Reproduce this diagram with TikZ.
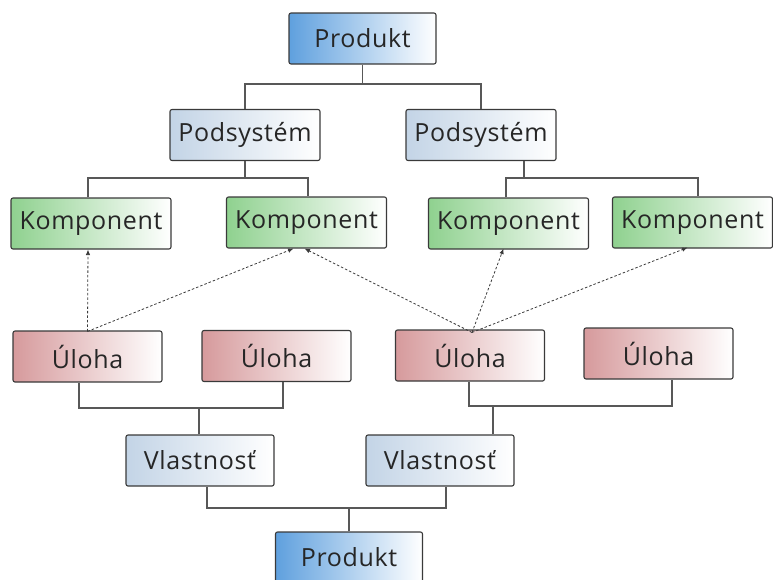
\documentclass[tikz,border=0pt]{standalone}
\usepackage{fontspec}
\setmainfont{Open Sans}[LetterSpace=2.5]
\usetikzlibrary{arrows.meta,calc}
\definecolor{bstrong}{HTML}{5FA0DE}
\definecolor{bsoft}{HTML}{C3D4E6}
\definecolor{gsoft}{HTML}{8FD18F}
\definecolor{rsoft}{HTML}{D69A9C}
\definecolor{edge}{HTML}{3A3A3A}
\tikzset{
  box/.style={draw=edge, line width=1.1pt, rounded corners=2pt, right color=white,
    minimum height=51pt, inner sep=0pt, font=\fontsize{25}{29}\selectfont, text=black!85},
  prod/.style={box, left color=bstrong, minimum width=147pt},
  sub/.style={box, left color=bsoft, minimum width=150pt},
  komp/.style={box, left color=gsoft, minimum width=160pt},
  ul/.style={box, left color=rsoft, minimum width=149pt},
  vl/.style={box, left color=bsoft, minimum width=148pt},
  wire/.style={draw=edge!85, line width=1.1pt},
  dep/.style={draw=edge, line width=0.8pt, dashed, dash pattern=on 2.5pt off 2pt, -{Latex[length=5.5pt,width=4.5pt]}}
}
\begin{document}
\begin{tikzpicture}[x=1pt,y=-1pt]
\useasboundingbox (0,0) rectangle (773,579);
\node[prod] (p1) at (362.5,38.5) {Produkt};
\node[sub] (s1) at (245,135) {Podsystém};
\node[sub] (s2) at (481,135) {Podsystém};
\node[komp] (k1) at (91,223.5) {Komponent};
\node[komp] (k2) at (306.5,222.5) {Komponent};
\node[komp] (k3) at (508.5,223.5) {Komponent};
\node[komp] (k4) at (692.5,222.5) {Komponent};
\node[ul] (u1) at (87.5,356.5) {Úloha};
\node[ul] (u2) at (276.5,356) {Úloha};
\node[ul] (u3) at (470,355.5) {Úloha};
\node[ul] (u4) at (658.5,353.5) {Úloha};
\node[vl] (v1) at (200,460.5) {Vlastnosť};
\node[vl] (v2) at (440,460.5) {Vlastnosť};
\node[prod] (p2) at (349,557.5) {Produkt};
% attachment points
\coordinate (s2b) at ([xshift=43pt]s2.south);
\coordinate (k1t) at ([xshift=-3pt]k1.north);
\coordinate (k2t) at ([xshift=1.5pt]k2.north);
\coordinate (k3t) at ([xshift=-2.5pt]k3.north);
\coordinate (k4t) at ([xshift=5.5pt]k4.north);
\coordinate (u1b) at ([xshift=-8.5pt]u1.south);
\coordinate (u2b) at ([xshift=6.5pt]u2.south);
\coordinate (u3b) at ([xshift=-1pt]u3.south);
\coordinate (u4b) at ([xshift=13.5pt]u4.south);
\coordinate (v1t) at ([xshift=-1pt]v1.north);
\coordinate (v2t) at ([xshift=53pt]v2.north);
\coordinate (v1b) at ([xshift=7pt]v1.south);
\coordinate (v2b) at ([xshift=6pt]v2.south);
% buses
\coordinate (b1) at (0,84);
\coordinate (b2) at (0,178);
\coordinate (b3) at (0,178);
\coordinate (b4) at (0,408);
\coordinate (b5) at (0,406);
\coordinate (b6) at (0,508);
\draw[wire] (p1.south) -- (p1.south |- b1);
\draw[wire] (s1.north) |- (b1 -| s2.north) -- (s2.north);
\draw[wire] (s1.south) -- (s1.south |- b2);
\draw[wire] (k1t) |- (b2 -| k2t) -- (k2t);
\draw[wire] (s2b) -- (s2b |- b3);
\draw[wire] (k3t) |- (b3 -| k4t) -- (k4t);
\draw[wire] (u1b) |- (b4 -| u2b) -- (u2b);
\draw[wire] (v1t) -- (v1t |- b4);
\draw[wire] (u3b) |- (b5 -| u4b) -- (u4b);
\draw[wire] (v2t) -- (v2t |- b5);
\draw[wire] (v1b) |- (b6 -| v2b) -- (v2b);
\draw[wire] (p2.north) -- (p2.north |- b6);
% dependencies
\coordinate (d1) at ([yshift=-1pt]u1.north);
\coordinate (d2) at ([xshift=2pt,yshift=-3pt]u3.north);
\draw[dep] (d1) -- ([xshift=-3pt]k1.south);
\draw[dep] (d1) -- ([xshift=-13pt]k2.south);
\draw[dep] (d2) -- ([xshift=-2pt]k2.south);
\draw[dep] (d2) -- ([xshift=-5pt,yshift=1pt]k3.south);
\draw[dep] (d2) -- ([xshift=-5pt,yshift=1pt]k4.south);
\end{tikzpicture}
\end{document}
